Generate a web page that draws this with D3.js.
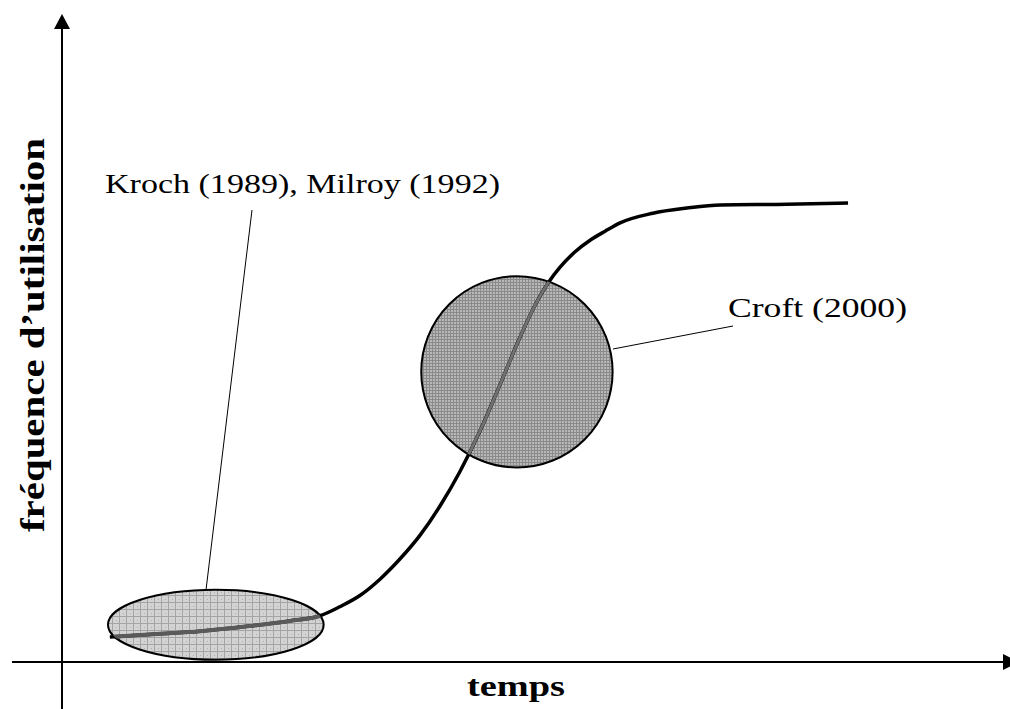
<!DOCTYPE html>
<html>
<head>
<meta charset="utf-8">
<script src="https://cdn.jsdelivr.net/npm/d3@7"></script>
<style>
  html, body { margin: 0; padding: 0; background: #fff; }
  svg { display: block; }
</style>
</head>
<body>
<svg id="chart" width="1010" height="709"></svg>
<script>
// S-curve of usage frequency over time (arbitrary units 0-100)
const temps = [5.1, 10.5, 14.7, 20.0, 24.3, 27.5, 29.6, 31.8, 33.9, 36.0, 38.2, 40.3, 42.4, 44.6,
    46.7, 48.8, 50.4, 51.8, 53.1, 54.7, 56.3, 57.9, 59.5, 63.0, 66.6, 70.2, 77.3, 83.8];
const frequence = [3.9, 4.4, 4.8, 5.6, 6.4, 7.2, 8.6, 10.4, 12.9, 16.0, 19.8, 24.3, 29.6, 36.1,
    43.2, 50.5, 55.5, 59.0, 61.5, 63.9, 65.7, 67.1, 68.4, 69.9, 70.7, 71.2, 71.3, 71.5];

// highlighted zones: centre and half-extent in data units
const zoneNames = ['kroch', 'croft'];
const zoneCentreT = [16.4, 48.5];
const zoneCentreF = [5.8, 45.2];
const zoneHalfT = [11.5, 10.2];
const zoneHalfF = [5.45, 14.9];

const labels = ['Kroch (1989), Milroy (1992)', 'Croft (2000)'];
const axisLabelX = 'temps';
const axisLabelY = 'fréquence d’utilisation';

const width = 1010, height = 709;
const svg = d3.select('#chart');

const x = d3.scaleLinear().domain([0, 100]).range([62, 1000]);
const y = d3.scaleLinear().domain([0, 100]).range([662, 20]);

const points = temps.map((t, i) => [t, frequence[i]]);
const line = d3.line()
    .x(d => x(d[0]))
    .y(d => y(d[1]))
    .curve(d3.curveMonotoneX);

// fill patterns
const defs = svg.append('defs');
const p1 = defs.append('pattern').attr('id', 'gridLight')
    .attr('patternUnits', 'userSpaceOnUse').attr('width', 7).attr('height', 7);
p1.append('rect').attr('width', 7).attr('height', 7).attr('fill', '#d3d3d3');
p1.append('rect').attr('width', 7).attr('height', 1).attr('fill', '#a4a4a4');
p1.append('rect').attr('width', 1).attr('height', 7).attr('fill', '#a4a4a4');
p1.append('rect').attr('x', 4).attr('y', 4).attr('width', 1).attr('height', 1).attr('fill', '#b0b0b0');

const p2 = defs.append('pattern').attr('id', 'gridDark')
    .attr('patternUnits', 'userSpaceOnUse').attr('width', 3).attr('height', 3);
p2.append('rect').attr('width', 3).attr('height', 3).attr('fill', '#b8b8b8');
p2.append('rect').attr('width', 3).attr('height', 1).attr('fill', '#8a8a8a');
p2.append('rect').attr('width', 1).attr('height', 3).attr('fill', '#8a8a8a');

const zoneFill = ['url(#gridLight)', 'url(#gridDark)'];
const zoneCurve = ['#5a5a5a', '#707070'];
const zoneCurveW = [4, 3];

const rx = (d, i) => x(zoneCentreT[i] + zoneHalfT[i]) - x(zoneCentreT[i]);
const ry = (d, i) => y(zoneCentreF[i]) - y(zoneCentreF[i] + zoneHalfF[i]);

const clip = defs.selectAll('clipPath').data(zoneNames).enter().append('clipPath')
    .attr('id', d => 'clip-' + d);
clip.append('ellipse')
    .attr('cx', (d, i) => x(zoneCentreT[i]))
    .attr('cy', (d, i) => y(zoneCentreF[i]))
    .attr('rx', rx)
    .attr('ry', ry);

// axes
const axisColor = '#000';
svg.append('line')
    .attr('x1', 12).attr('x2', 1004)
    .attr('y1', y(0)).attr('y2', y(0))
    .attr('stroke', axisColor).attr('stroke-width', 2);
svg.append('path')
    .attr('d', `M1003,${y(0) - 8}L1019,${y(0)}L1003,${y(0) + 8}Z`)
    .attr('fill', axisColor);
svg.append('line')
    .attr('x1', x(0)).attr('x2', x(0))
    .attr('y1', height).attr('y2', 28)
    .attr('stroke', axisColor).attr('stroke-width', 2);
svg.append('path')
    .attr('d', `M${x(0) - 8},29L${x(0)},14L${x(0) + 8},29Z`)
    .attr('fill', axisColor);

// zones
const zones = svg.selectAll('g.zone').data(zoneNames).enter().append('g').attr('class', 'zone');
zones.append('ellipse')
    .attr('cx', (d, i) => x(zoneCentreT[i]))
    .attr('cy', (d, i) => y(zoneCentreF[i]))
    .attr('rx', rx)
    .attr('ry', ry)
    .attr('fill', (d, i) => zoneFill[i]);

// curve
svg.append('path')
    .datum(points)
    .attr('d', line)
    .attr('fill', 'none')
    .attr('stroke', '#000')
    .attr('stroke-width', 3.5);

// curve seen through the zones
zoneNames.forEach((z, i) => {
    svg.append('path')
        .datum(points)
        .attr('d', line)
        .attr('clip-path', `url(#clip-${z})`)
        .attr('fill', 'none')
        .attr('stroke', zoneCurve[i])
        .attr('stroke-width', zoneCurveW[i]);
});

// zone outlines
zones.append('ellipse')
    .attr('cx', (d, i) => x(zoneCentreT[i]))
    .attr('cy', (d, i) => y(zoneCentreF[i]))
    .attr('rx', rx)
    .attr('ry', ry)
    .attr('fill', 'none')
    .attr('stroke', '#000')
    .attr('stroke-width', 2);

// leader lines and labels
svg.append('line')
    .attr('x1', 206).attr('y1', 590).attr('x2', 252).attr('y2', 210)
    .attr('stroke', '#000').attr('stroke-width', 1);
svg.append('line')
    .attr('x1', 613).attr('y1', 349).attr('x2', 733).attr('y2', 326)
    .attr('stroke', '#000').attr('stroke-width', 1);

const serif = '"Liberation Serif", "DejaVu Serif", serif';
svg.append('text')
    .attr('x', 105).attr('y', 193)
    .attr('textLength', 395).attr('lengthAdjust', 'spacingAndGlyphs')
    .style('font-family', serif).style('font-size', '28px')
    .text(labels[0]);
svg.append('text')
    .attr('x', 728).attr('y', 317)
    .attr('textLength', 179).attr('lengthAdjust', 'spacingAndGlyphs')
    .style('font-family', serif).style('font-size', '28px')
    .text(labels[1]);

svg.append('text')
    .attr('x', 467).attr('y', 696)
    .attr('textLength', 98).attr('lengthAdjust', 'spacingAndGlyphs')
    .style('font-family', serif).style('font-size', '30px').style('font-weight', 'bold')
    .text(axisLabelX);

svg.append('text')
    .attr('transform', 'translate(44,532) rotate(-90)')
    .attr('textLength', 394).attr('lengthAdjust', 'spacingAndGlyphs')
    .style('font-family', serif).style('font-size', '33px').style('font-weight', 'bold')
    .text(axisLabelY);
</script>
</body>
</html>
